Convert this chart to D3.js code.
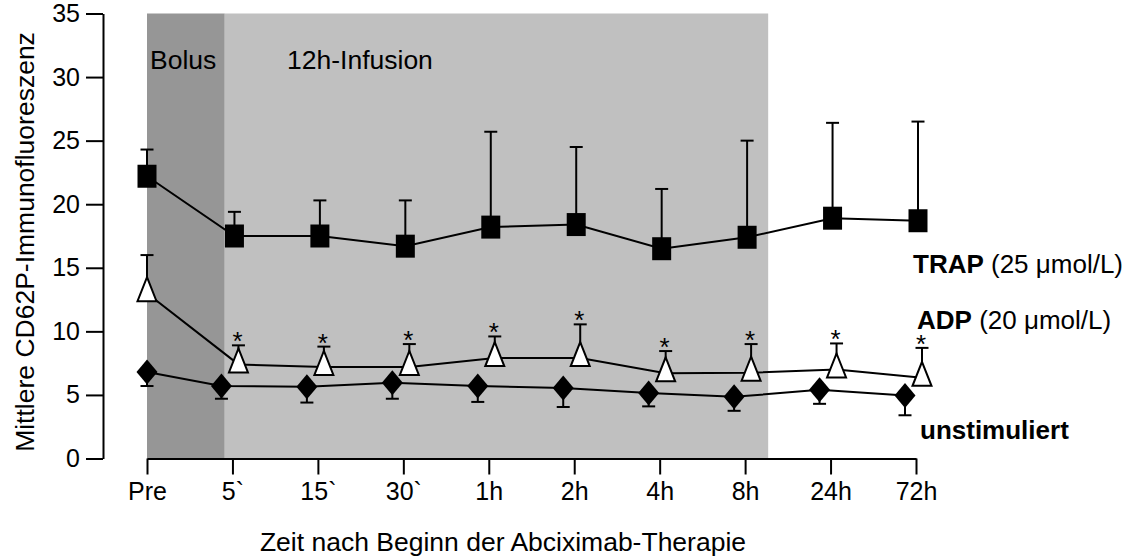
<!DOCTYPE html>
<html>
<head>
<meta charset="utf-8">
<script src="https://cdn.jsdelivr.net/npm/d3@7"></script>
<style>
  html, body { margin: 0; padding: 0; background: #fff; }
  svg { display: block; }
  text { font-family: "Liberation Sans", Arial, Helvetica, sans-serif; fill: #000; }
</style>
</head>
<body>
<svg id="chart" width="1134" height="559"></svg>
<script>
// Sampling times after start of abciximab therapy
const categories = ["Pre", "5`", "15`", "30`", "1h", "2h", "4h", "8h", "24h", "72h"];

// Mean CD62P immunofluorescence and standard deviation per series
const trapMean = [22.2, 17.5, 17.5, 16.7, 18.2, 18.4, 16.5, 17.4, 18.9, 18.7];
const trapSD   = [2.1, 1.9, 2.8, 3.6, 7.5, 6.1, 4.7, 7.6, 7.5, 7.8];
const adpMean  = [13.0, 7.4, 7.2, 7.2, 7.9, 7.9, 6.7, 6.75, 7.0, 6.35];
const adpSD    = [3.0, 1.5, 1.6, 1.8, 1.7, 2.65, 1.75, 2.25, 2.05, 2.35];
const unstimMean = [6.8, 5.7, 5.65, 5.95, 5.7, 5.55, 5.15, 4.85, 5.4, 4.95];
const unstimSD   = [1.1, 1.0, 1.25, 1.25, 1.25, 1.5, 1.05, 1.1, 1.1, 1.55];

// Significance marks (ADP vs. baseline)
const adpSignificant = [false, true, true, true, true, true, true, true, true, true];

// Y axis ticks
const yTicks = [0, 5, 10, 15, 20, 25, 30, 35];

// Treatment phases, in category-index units along the time axis
const phaseNames  = ["Bolus", "12h-Infusion"];
const phaseStart  = [0, 0.91];
const phaseEnd    = [0.91, 7.27];

// Series labels
const seriesBold  = ["TRAP", "ADP", "unstimuliert"];
const seriesRest  = [" (25 \u03BCmol/L)", " (20 \u03BCmol/L)", ""];

const yTitle = "Mittlere CD62P-Immunofluoreszenz";
const xTitle = "Zeit nach Beginn der Abciximab-Therapie";

const svg = d3.select("#chart");

const x = d3.scaleLinear().domain([0, categories.length - 1]).range([147, 916]);
const y = d3.scaleLinear().domain([0, 35]).range([458.5, 13.5]);

// phase shading
const phaseFill = ["#969696", "#c0c0c0"];
svg.append("g").selectAll("rect")
  .data(phaseNames)
  .join("rect")
  .attr("x", (d, i) => x(phaseStart[i]))
  .attr("width", (d, i) => x(phaseEnd[i]) - x(phaseStart[i]))
  .attr("y", y(35))
  .attr("height", y(0) - y(35))
  .attr("fill", (d, i) => phaseFill[i]);

svg.append("text").attr("x", x(phaseStart[0]) + 3).attr("y", 69)
  .attr("font-size", 26.5).text(phaseNames[0]);
svg.append("text").attr("x", 287).attr("y", 69)
  .attr("font-size", 26.5).text(phaseNames[1]);

// axes
const yAxis = d3.axisLeft(y).tickValues(yTicks).tickSize(17).tickSizeOuter(0).tickPadding(6);
const gy = svg.append("g").attr("transform", "translate(103,0)").call(yAxis);
const xAxis = d3.axisBottom(x).tickValues(d3.range(categories.length))
  .tickFormat(i => categories[i]).tickSize(16).tickSizeOuter(0).tickPadding(8);
const gx = svg.append("g").attr("transform", `translate(0,${y(0)})`).call(xAxis);

[gx, gy].forEach(g => {
  g.select(".domain").attr("stroke", "#000").attr("stroke-width", 2);
  g.selectAll(".tick line").attr("stroke", "#000").attr("stroke-width", 2);
  g.selectAll(".tick text").attr("font-size", 25).attr("fill", "#000")
    .attr("font-family", "'Liberation Sans', Arial, sans-serif");
});

// axis titles
svg.append("text")
  .attr("transform", "translate(34,242) rotate(-90)")
  .attr("text-anchor", "middle").attr("font-size", 26.5).text(yTitle);
svg.append("text")
  .attr("x", 503).attr("y", 551)
  .attr("text-anchor", "middle").attr("font-size", 26.5).text(xTitle);

// series definitions: marker shape, horizontal dodge after baseline, error direction
const series = [
  { mean: trapMean, sd: trapSD, dodge: 2, dir: -1,
    shape: "M-9.5,-11.5H9.5V11.5H-9.5Z", fill: "#000", stroke: "none" },
  { mean: adpMean, sd: adpSD, dodge: 6, dir: -1,
    shape: "M0,-16L9.5,8H-9.5Z", fill: "#fff", stroke: "#000" },
  { mean: unstimMean, sd: unstimSD, dodge: -11, dir: 1,
    shape: "M0,-12.5L10.5,0L0,12.5L-10.5,0Z", fill: "#000", stroke: "none" }
];

const px = (s, i) => x(i) + (i === 0 ? 0 : s.dodge);

const lineGen = d3.line();

series.forEach(s => {
  const g = svg.append("g");
  // connecting line
  g.append("path")
    .attr("d", lineGen(s.mean.map((v, i) => [px(s, i), y(v)])))
    .attr("fill", "none").attr("stroke", "#000").attr("stroke-width", 2);
  // error bars (one-sided)
  const eb = g.append("g").selectAll("g").data(s.mean).join("g");
  eb.append("line")
    .attr("x1", (v, i) => px(s, i)).attr("x2", (v, i) => px(s, i))
    .attr("y1", v => y(v))
    .attr("y2", (v, i) => y(v - s.dir * s.sd[i]))
    .attr("stroke", "#000").attr("stroke-width", 2);
  eb.append("line")
    .attr("x1", (v, i) => px(s, i) - 6.5).attr("x2", (v, i) => px(s, i) + 6.5)
    .attr("y1", (v, i) => y(v - s.dir * s.sd[i]))
    .attr("y2", (v, i) => y(v - s.dir * s.sd[i]))
    .attr("stroke", "#000").attr("stroke-width", 2);
  // markers
  g.append("g").selectAll("path").data(s.mean).join("path")
    .attr("transform", (v, i) => `translate(${px(s, i)},${y(v)})`)
    .attr("d", s.shape)
    .attr("fill", s.fill).attr("stroke", s.stroke).attr("stroke-width", 2);
});

// significance asterisks above the ADP error bars
const adp = series[1];
svg.append("g").selectAll("text")
  .data(adpMean.map((v, i) => i).filter(i => adpSignificant[i]))
  .join("text")
  .attr("x", i => px(adp, i) - 1)
  .attr("y", i => y(adpMean[i] + adpSD[i]) + 5)
  .attr("text-anchor", "middle")
  .attr("font-family", "'DejaVu Sans', sans-serif")
  .attr("font-size", 26).attr("fill", "#222")
  .text("*");

// series labels at the right
const labelX = [913, 917, 920];
const labelY = [273, 329, 439];
seriesBold.forEach((b, i) => {
  const t = svg.append("text").attr("x", labelX[i]).attr("y", labelY[i]).attr("font-size", 26);
  t.append("tspan").attr("font-weight", "bold").text(b);
  if (seriesRest[i]) t.append("tspan").text(seriesRest[i]);
});
</script>
</body>
</html>
